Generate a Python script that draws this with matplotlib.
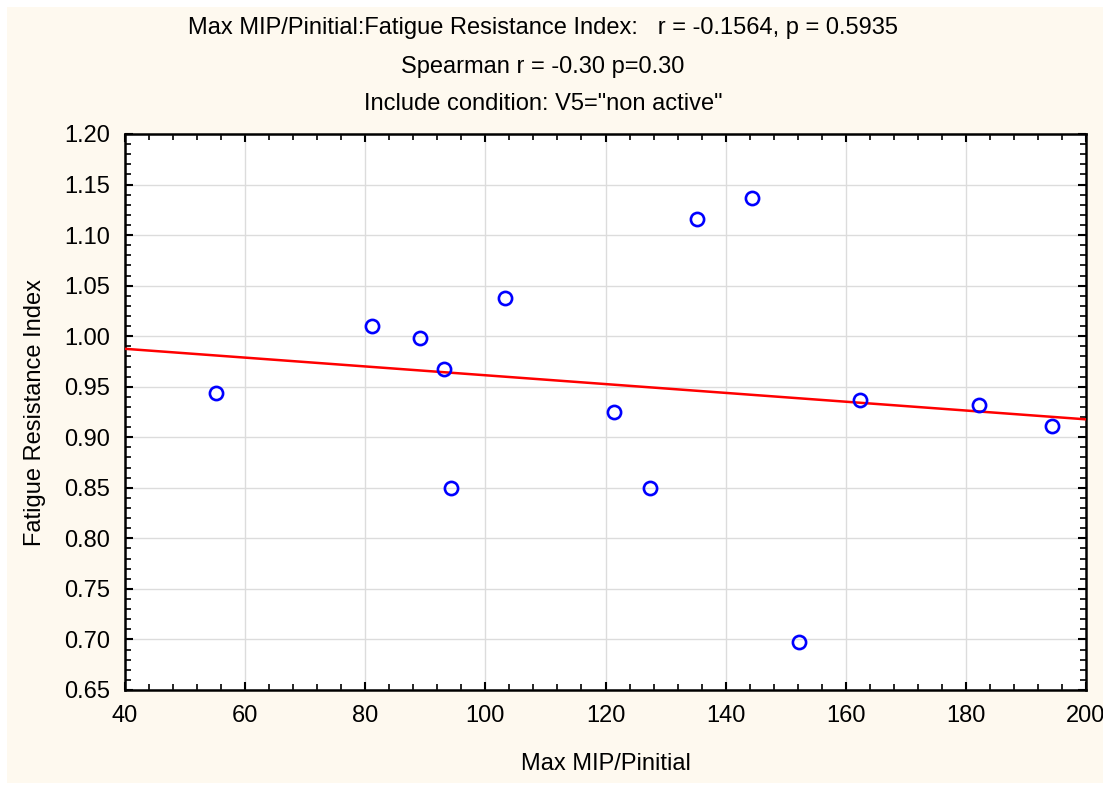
import numpy as np
import matplotlib
matplotlib.use("Agg")
import matplotlib.pyplot as plt
from matplotlib.patches import Rectangle
from matplotlib.ticker import MultipleLocator

max_mip = [55.2, 81.1, 89.1, 93.1, 94.3, 103.3, 121.4, 127.4, 135.2, 144.4, 152.2, 162.4, 182.2, 194.3]
fatigue = [0.944, 1.010, 0.998, 0.9675, 0.850, 1.038, 0.925, 0.850, 1.116, 1.137, 0.697, 0.937, 0.932, 0.911]

title_lines = ['Max MIP/Pinitial:Fatigue Resistance Index:   r = -0.1564, p = 0.5935',
               'Spearman r = -0.30 p=0.30',
               'Include condition: V5="non active"']

plt.rcParams['font.family'] = ['Liberation Sans', 'DejaVu Sans']

fig = plt.figure(figsize=(11.03, 7.85), dpi=100)
fig.patches.append(Rectangle((7/1103, 2/785), 1 - 7/1103, 1 - 9/785, transform=fig.transFigure,
                             facecolor='#fef9ef', edgecolor='none', zorder=-10))

ax = fig.add_axes([125/1103, 95/785, 961/1103, 556/785])
ax.set_facecolor('white')

x = np.array(max_mip)
y = np.array(fatigue)
# least squares line, as in the original
slope, icpt = np.polyfit(x, y, 1)
xl = np.array([40, 200])
ax.plot(xl, icpt + slope*xl, color='red', lw=1.8, zorder=3)
ax.plot(x, y, 'o', mfc='none', mec='blue', mew=1.9, ms=9.5, zorder=4, clip_on=False)

ax.set_xlim(40, 200)
ax.set_ylim(0.65, 1.20)
ax.xaxis.set_major_locator(MultipleLocator(20))
ax.xaxis.set_minor_locator(MultipleLocator(4))
ax.yaxis.set_major_locator(MultipleLocator(0.05))
ax.yaxis.set_minor_locator(MultipleLocator(0.01))
ax.yaxis.set_major_formatter(plt.FormatStrFormatter('%.2f'))
ax.grid(True, which='major', color='#dcdcdc', lw=1)
ax.set_axisbelow(True)
ax.tick_params(which='both', direction='in', top=True, right=True, color='black')
ax.tick_params(which='major', length=6, width=1.5, labelsize=17, pad=11)
ax.tick_params(which='minor', length=4, width=1.2)
for s in ax.spines.values():
    s.set_linewidth(1.8)

ax.set_xlabel('Max MIP/Pinitial', fontsize=17)
ax.set_ylabel('Fatigue Resistance Index', fontsize=17)
ax.xaxis.set_label_coords(0.5, -(764 - 690)/556, transform=ax.transAxes)
ax.yaxis.set_label_coords(-(125 - 35)/961, 0.5, transform=ax.transAxes)
ax.xaxis.label.set_va('center')
ax.yaxis.label.set_va('center')

for yy, t in zip([28, 67, 104], title_lines):
    fig.text(543/1103, 1 - yy/785, t, ha='center', va='center', fontsize=17)

fig.savefig('out.png', dpi=100, facecolor='white')
